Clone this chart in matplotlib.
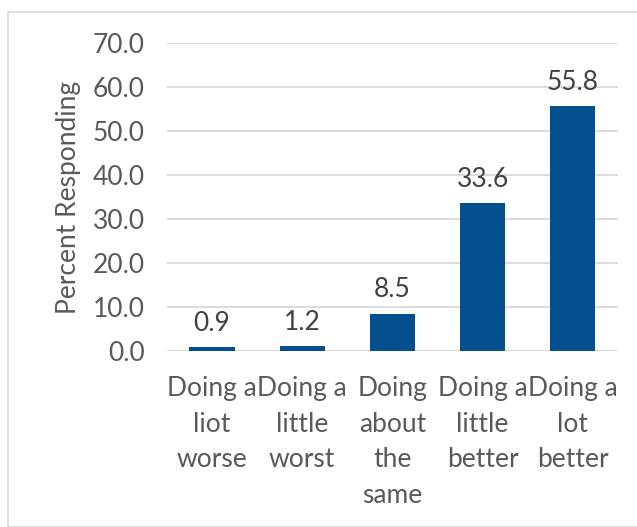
import matplotlib.pyplot as plt
from matplotlib.patches import Rectangle

# Data
categories = ["Doing a\nliot\nworse", "Doing a\nlittle\nworst", "Doing\nabout\nthe\nsame",
              "Doing a\nlittle\nbetter", "Doing a\nlot\nbetter"]
values = [0.9, 1.2, 8.5, 33.6, 55.8]
yticks = [0, 10, 20, 30, 40, 50, 60, 70]

plt.rcParams['font.family'] = ['Lato', 'DejaVu Sans']

fig = plt.figure(figsize=(6.37, 5.27), dpi=100)
ax = fig.add_axes([0.262, 0.334, 0.708, 0.584])

# chart border
fig.patches.append(Rectangle((8 / 637, 0), 1, 1 - 12 / 527, transform=fig.transFigure,
                             fill=False, edgecolor="#D9D9D9", linewidth=1.2))

x = range(len(values))
bars = ax.bar(x, values, width=0.5, color="#04508F", zorder=3)
for b, v in zip(bars, values):
    ax.annotate(f"{v:.1f}", (b.get_x() + b.get_width() / 2, v), xytext=(0, 8),
                textcoords="offset points", ha="center", va="bottom",
                fontsize=19, color="#404040")

ax.set_xlim(-0.5, len(values) - 0.5)
ax.set_ylim(0, 70)
ax.set_yticks(yticks)
ax.set_yticklabels([f"{t:.1f}" for t in yticks], fontsize=19, color="#595959")
ax.set_xticks(list(x))
ax.set_xticklabels(categories, fontsize=19, color="#595959", linespacing=1.53)
ax.tick_params(axis="both", length=0)
ax.tick_params(axis="y", pad=16)
ax.tick_params(axis="x", pad=18)
ax.grid(axis="y", color="#D9D9D9", linewidth=1.3, zorder=0)
for s in ax.spines.values():
    s.set_visible(False)

ax.set_ylabel("Percent Responding", fontsize=19, color="#595959")
ax.yaxis.set_label_coords(-0.19, 0.5)

fig.savefig("out.png", dpi=100)
